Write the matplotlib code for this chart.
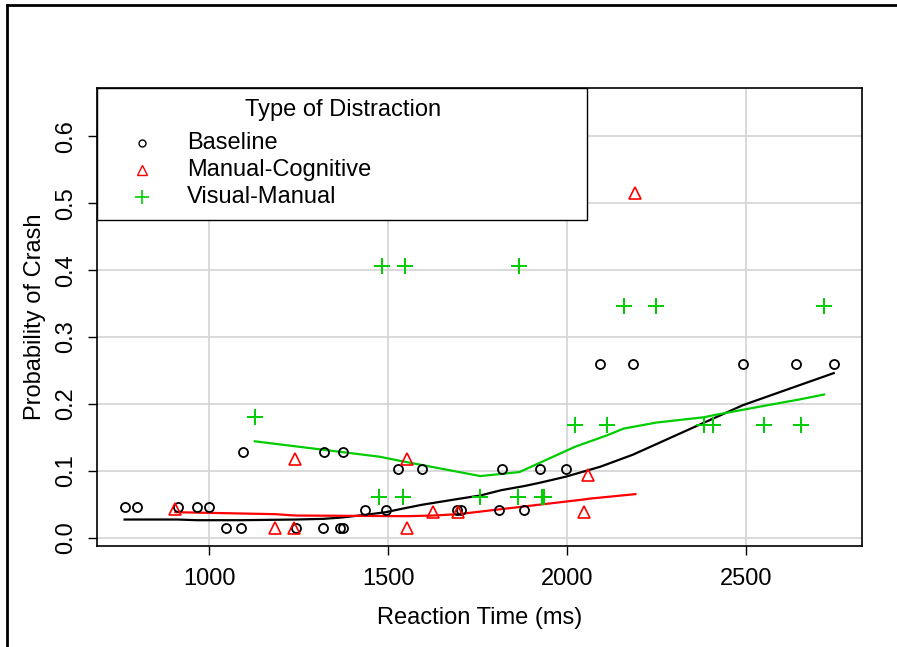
import matplotlib
matplotlib.use('Agg')
import matplotlib.pyplot as plt
from matplotlib.patches import Rectangle
from matplotlib.lines import Line2D

plt.rcParams['font.family'] = ['Liberation Sans', 'DejaVu Sans']

# ---------------------------------------------------------------------------
# Data
# ---------------------------------------------------------------------------
base_rt = [764, 799, 912, 966, 1000, 1046, 1090, 1096, 1243, 1319, 1322, 1367,
           1373, 1375, 1436, 1494, 1529, 1594, 1692, 1704, 1809, 1817, 1880,
           1924, 1996, 2093, 2184, 2491, 2639, 2745]
base_p = [0.046, 0.046, 0.046, 0.046, 0.046, 0.014, 0.014, 0.128, 0.014, 0.014,
          0.128, 0.014, 0.014, 0.128, 0.041, 0.041, 0.102, 0.102, 0.041, 0.041,
          0.041, 0.102, 0.041, 0.102, 0.102, 0.26, 0.26, 0.26, 0.26, 0.26]

mc_rt = [906, 1185, 1238, 1241, 1552, 1554, 1626, 1696, 2047, 2059, 2191]
mc_p = [0.043, 0.015, 0.015, 0.117, 0.015, 0.117, 0.039, 0.039, 0.039, 0.094,
        0.516]

vm_rt = [1128, 1476, 1482, 1541, 1548, 1758, 1862, 1867, 1930, 1936, 2023,
         2112, 2158, 2249, 2383, 2409, 2550, 2653, 2718]
vm_p = [0.181, 0.061, 0.406, 0.061, 0.406, 0.061, 0.061, 0.406, 0.061, 0.061,
        0.168, 0.168, 0.347, 0.347, 0.168, 0.168, 0.168, 0.168, 0.347]

# smoothed curves
base_fit_rt = [764, 799, 912, 966, 1000, 1046, 1090, 1243, 1319, 1370, 1436,
               1494, 1529, 1594, 1698, 1758, 1817, 1880, 1924, 1996, 2093,
               2184, 2491, 2639, 2745]
base_fit_p = [0.027, 0.027, 0.027, 0.026, 0.026, 0.026, 0.026, 0.027, 0.028,
              0.030, 0.034, 0.038, 0.042, 0.049, 0.058, 0.063, 0.071, 0.077,
              0.082, 0.091, 0.106, 0.124, 0.198, 0.226, 0.246]

mc_fit_rt = [906, 1185, 1241, 1552, 1626, 1696, 2047, 2059, 2191]
mc_fit_p = [0.038, 0.035, 0.033, 0.032, 0.033, 0.035, 0.057, 0.058, 0.065]

vm_fit_rt = [1128, 1476, 1541, 1758, 1867, 2023, 2112, 2158, 2249, 2383,
             2409, 2550, 2653, 2718]
vm_fit_p = [0.144, 0.121, 0.114, 0.092, 0.098, 0.136, 0.153, 0.163, 0.172,
            0.180, 0.183, 0.197, 0.207, 0.214]

x_ticks = [1000, 1500, 2000, 2500]
y_ticks = [0.0, 0.1, 0.2, 0.3, 0.4, 0.5, 0.6]

GREEN = '#00CD00'
RED = '#FF0000'
FS = 17

fig = plt.figure(figsize=(8.97, 6.47), dpi=100)
ax = fig.add_axes([97 / 897, 1 - 546 / 647, 765 / 897, 458 / 647])

# grid
for xt in x_ticks:
    ax.axvline(xt, color='#d3d3d3', lw=1.2, zorder=0)
for yt in y_ticks:
    ax.axhline(yt, color='#d3d3d3', lw=1.2, zorder=0)

# points
ax.plot(base_rt, base_p, 'o', mfc='none', mec='black', ms=6.5, mew=1.3,
        zorder=3)
ax.plot(mc_rt, mc_p, '^', mfc='none', mec=RED, ms=9, mew=1.2, zorder=3)
ax.plot(vm_rt, vm_p, '+', color=GREEN, ms=12, mew=1.4, zorder=3)

# fitted lines
ax.plot(base_fit_rt, base_fit_p, '-', color='black', lw=1.6, zorder=2)
ax.plot(mc_fit_rt, mc_fit_p, '-', color=RED, lw=1.6, zorder=2)
ax.plot(vm_fit_rt, vm_fit_p, '-', color=GREEN, lw=1.6, zorder=2)

ax.set_xlim(687, 2824)
ax.set_ylim(-0.0126, 0.6725)
ax.set_xticks(x_ticks)
ax.set_yticks(y_ticks)
ax.set_xticklabels([str(v) for v in x_ticks], fontsize=FS)
ax.set_yticklabels(['%.1f' % v for v in y_ticks], fontsize=FS,
                   rotation=90, va='center')
ax.tick_params(axis='both', direction='out', length=6.5, width=1.0,
               color='black')
ax.tick_params(axis='x', pad=9)
ax.tick_params(axis='y', pad=8)
for sp in ax.spines.values():
    sp.set_linewidth(1.2)
    sp.set_color('black')

ax.set_xlabel('Reaction Time (ms)', fontsize=FS)
ax.xaxis.set_label_coords(0.5, -0.157)
ax.xaxis.label.set_va('center')
ax.set_ylabel('Probability of Crash', fontsize=FS)
ax.yaxis.set_label_coords(-0.081, 0.5)
ax.yaxis.label.set_va('center')

# legend drawn by hand
leg_right = 0.6405
leg_bottom = 0.7118
ax.add_patch(Rectangle((0, leg_bottom), leg_right, 1 - leg_bottom,
                       transform=ax.transAxes, facecolor='white',
                       edgecolor='black', lw=1.0, zorder=5, clip_on=False))
ax.text(0.3216, 0.952, 'Type of Distraction', transform=ax.transAxes,
        ha='center', va='center', fontsize=FS, zorder=6)
rows = [0.8806, 0.821, 0.7627]
labels = ['Baseline', 'Manual-Cognitive', 'Visual-Manual']
styles = [dict(marker='o', mfc='none', mec='black', ms=5, mew=1.0),
          dict(marker='^', mfc='none', mec=RED, ms=7, mew=1.0),
          dict(marker='+', color=GREEN, ms=10, mew=1.2)]
for yy, lab, st in zip(rows, labels, styles):
    ax.add_line(Line2D([0.0584], [yy], linestyle='none',
                       transform=ax.transAxes, zorder=6, clip_on=False, **st))
    ax.text(0.1173, yy, lab, transform=ax.transAxes, ha='left',
            va='center', fontsize=FS, zorder=6)

# outer frame (partly cut off in the original)
fig.add_artist(Line2D([7 / 897, 1.0], [1 - 5 / 647, 1 - 5 / 647],
                      color='black', lw=2.0, transform=fig.transFigure))
fig.add_artist(Line2D([7 / 897, 7 / 897], [0.0, 1 - 5 / 647],
                      color='black', lw=2.0, transform=fig.transFigure))

fig.savefig('out.png', dpi=100, facecolor='white')
